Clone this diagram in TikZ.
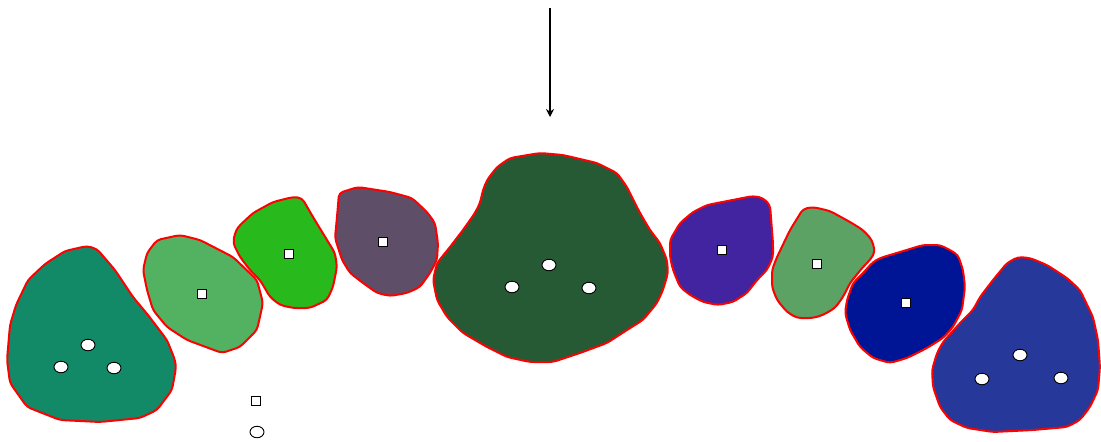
\documentclass[tikz,border=0pt]{standalone}
\usepackage{xcolor}
\usepackage{tikz}
\usetikzlibrary{arrows.meta,shapes.geometric}

\definecolor{cTeal}{RGB}{18,138,104}
\definecolor{cLight}{RGB}{82,178,98}
\definecolor{cLime}{RGB}{40,186,28}
\definecolor{cMauve}{RGB}{94,78,104}
\definecolor{cDark}{RGB}{38,90,53}
\definecolor{cViolet}{RGB}{66,35,160}
\definecolor{cSage}{RGB}{91,162,100}
\definecolor{cNavy}{RGB}{0,20,150}
\definecolor{cBlue}{RGB}{38,56,154}

\begin{document}
\begin{tikzpicture}[x=1pt, y=-1pt,
  blob/.style={draw=red, line width=2pt, line join=round, rounded corners=4pt},
  sq/.style={rectangle, draw=black, fill=white, line width=0.9pt,
             minimum size=9pt, inner sep=0pt},
  dot/.style={ellipse, draw=black, fill=white, line width=0.9pt,
              minimum width=14pt, minimum height=11.5pt, inner sep=0pt},
  arw/.style={-{Stealth[length=8pt, width=8pt]}, line width=1.1pt}]
  \useasboundingbox (0,0) rectangle (1101,442);
  % cells
  \draw[blob, fill=cTeal] (28,280) -- (45,264) -- (65,251) -- (87,246) -- (97,249)
    -- (115,270) -- (133,297) -- (148,315) -- (167,340) -- (175,360) -- (176,368)
    -- (172,390) -- (157,410) -- (140,418) -- (100,422) -- (60,420) -- (27,407)
    -- (10,383) -- (7,360) -- (10,325) -- (16,305) -- cycle;
  \draw[blob, fill=cLight] (147,253) -- (157,240) -- (180,235) -- (200,240)
    -- (233,257) -- (257,280) -- (263,303) -- (257,330) -- (240,347) -- (222,353)
    -- (187,340) -- (167,327) -- (153,310) -- (147,290) -- (143,270) -- cycle;
  \draw[blob, fill=cLime] (238,227) -- (253,213) -- (273,202) -- (293,197)
    -- (302,198) -- (313,217) -- (327,240) -- (335,253) -- (337,267) -- (333,287)
    -- (327,300) -- (310,308) -- (293,308) -- (280,305) -- (270,297) -- (260,280)
    -- (250,270) -- (240,257) -- (233,243) -- (235,233) -- cycle;
  \draw[blob, fill=cMauve] (339,193) -- (358,187) -- (390,192) -- (412,198)
    -- (427,212) -- (435,223) -- (438,243) -- (437,260) -- (430,273) -- (420,287)
    -- (407,293) -- (390,296) -- (377,293) -- (363,283) -- (350,273) -- (342,260)
    -- (335,238) -- (337,217) -- cycle;
  \draw[blob, fill=cDark] (483,190) -- (487,180) -- (497,167) -- (510,158)
    -- (540,153) -- (563,155) -- (597,163) -- (617,173) -- (627,187) -- (640,213)
    -- (650,230) -- (660,243) -- (667,260) -- (668,273) -- (663,290) -- (657,303)
    -- (643,320) -- (627,330) -- (607,343) -- (580,353) -- (553,362) -- (530,362)
    -- (507,357) -- (487,347) -- (463,333) -- (447,317) -- (437,300) -- (433,280)
    -- (437,263) -- (450,247) -- (463,230) -- (475,213) -- (480,203) -- cycle;
  \draw[blob, fill=cViolet] (670,240) -- (680,223) -- (693,212) -- (707,205)
    -- (753,196) -- (763,198) -- (770,205) -- (773,243) -- (773,257) -- (767,270)
    -- (757,280) -- (747,293) -- (733,302) -- (718,305) -- (703,302) -- (690,295)
    -- (680,287) -- (673,270) -- (670,257) -- cycle;
  \draw[blob, fill=cSage] (803,209) -- (813,207) -- (830,211) -- (850,222)
    -- (863,230) -- (872,240) -- (875,252) -- (870,260) -- (863,267) -- (850,283)
    -- (843,297) -- (835,308) -- (823,315) -- (813,318) -- (797,318) -- (787,312)
    -- (777,300) -- (772,287) -- (772,270) -- (777,257) -- (790,230) -- cycle;
  \draw[blob, fill=cNavy] (873,262) -- (880,258) -- (900,252) -- (923,245)
    -- (940,245) -- (950,250) -- (958,255) -- (963,270) -- (965,287) -- (962,310)
    -- (953,327) -- (943,338) -- (927,348) -- (907,358) -- (890,363) -- (873,358)
    -- (860,347) -- (850,330) -- (845,313) -- (847,300) -- (853,283) -- (863,273)
    -- cycle;
  \draw[blob, fill=cBlue] (943,342) -- (960,323) -- (973,310) -- (980,297)
    -- (993,280) -- (1007,263) -- (1018,257) -- (1030,258) -- (1047,265)
    -- (1067,278) -- (1080,290) -- (1093,317) -- (1098,340) -- (1100,367)
    -- (1098,390) -- (1090,407) -- (1080,420) -- (1067,427) -- (1033,430)
    -- (993,432) -- (967,428) -- (950,420) -- (940,407) -- (933,387) -- (932,370)
    -- (937,353) -- cycle;
  % markers
  \node[dot] (a1) at (88,345) {};
  \node[dot] (a2) at (61,367) {};
  \node[dot] (a3) at (114,368) {};
  \node[sq] (b1) at (202,294) {};
  \node[sq] (b2) at (289,254) {};
  \node[sq] (b3) at (383,242) {};
  \node[dot] (c1) at (549,265) {};
  \node[dot] (c2) at (512,287) {};
  \node[dot] (c3) at (589,288) {};
  \node[sq] (d1) at (722,250) {};
  \node[sq] (d2) at (817,264) {};
  \node[sq] (d3) at (906,303) {};
  \node[dot] (e1) at (1020,355) {};
  \node[dot] (e2) at (982,379) {};
  \node[dot] (e3) at (1061,378) {};
  % legend
  \node[sq] (lsq) at (256,401) {};
  \node[dot] (ldot) at (257,432) {};
  % incoming arrow
  \coordinate (src) at (550,8);
  \coordinate (dst) at (550,117);
  \draw[arw] (src) -- (dst);
\end{tikzpicture}
\end{document}
